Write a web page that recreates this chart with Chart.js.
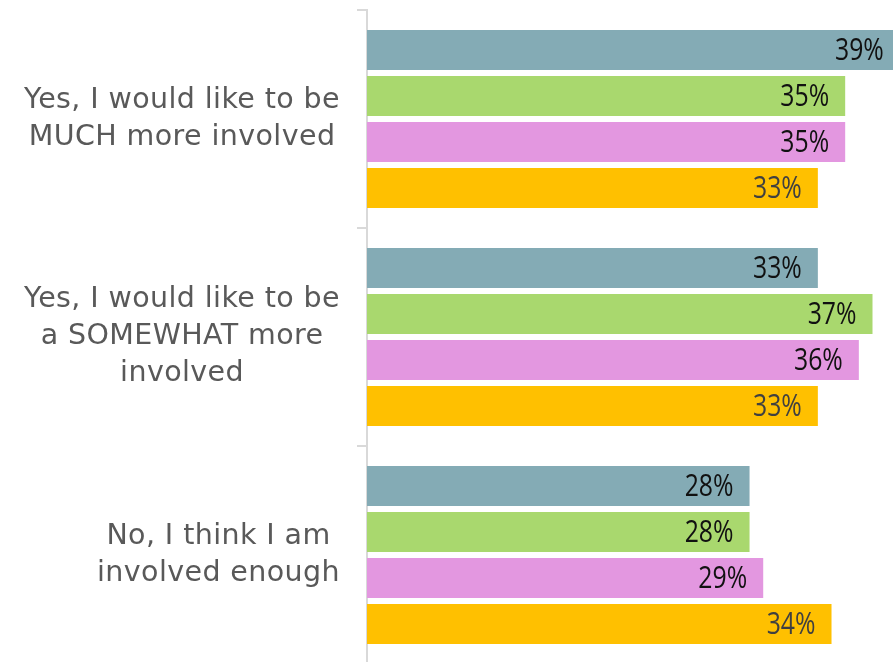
<!DOCTYPE html>
<html>
<head>
<meta charset="utf-8">
<script src="https://cdn.jsdelivr.net/npm/chart.js@4/dist/chart.umd.min.js"></script>
<style>
  html, body { margin: 0; padding: 0; background: #ffffff; overflow: hidden; }
  #wrap { width: 893px; height: 662px; overflow: hidden; }
</style>
</head>
<body>
<div id="wrap"><canvas id="c" width="893" height="664"></canvas></div>
<script>
const categories = [
  ["Yes, I would like to be", "MUCH more involved"],
  ["Yes, I would like to be", "a SOMEWHAT more", "involved"],
  ["No, I think I am", "involved enough"]
];
const seriesNames = ["Series 1", "Series 2", "Series 3", "Series 4"];
const series1 = [39, 33, 28];
const series2 = [35, 37, 28];
const series3 = [35, 36, 29];
const series4 = [33, 33, 34];
const seriesColors = ["#84ABB5", "#A9D86E", "#E397E0", "#FFC000"];
const labelColors = ["#111111", "#111111", "#111111", "#404040"];

const valueLabels = {
  id: "valueLabels",
  afterDatasetsDraw(chart) {
    const ctx = chart.ctx;
    ctx.save();
    ctx.font = "31px 'Open Sans'";
    ctx.textBaseline = "middle";
    ctx.textAlign = "right";
    const sx = 0.8;
    chart.data.datasets.forEach((ds, di) => {
      const meta = chart.getDatasetMeta(di);
      meta.data.forEach((el, i) => {
        const txt = ds.data[i] + "%";
        ctx.fillStyle = labelColors[di];
        ctx.save();
        ctx.translate(el.x - 16, el.y + 1);
        ctx.scale(sx, 1);
        ctx.fillText(txt, 0, 0);
        ctx.restore();
      });
    });
    ctx.restore();
  }
};

const catLabels = {
  id: "catLabels",
  afterDraw(chart) {
    const ctx = chart.ctx;
    const ys = chart.scales.y;
    ctx.save();
    ctx.font = "28.5px 'DejaVu Sans'";
    if ("letterSpacing" in ctx) ctx.letterSpacing = "0.4px";
    ctx.fillStyle = "#595959";
    ctx.textBaseline = "middle";
    ctx.textAlign = "center";
    const lh = 37;
    const rightEdge = 340;
    categories.forEach((lines, i) => {
      const yc = ys.getPixelForValue(i);
      let w = 0;
      lines.forEach(l => { w = Math.max(w, ctx.measureText(l).width); });
      const cx = rightEdge - w / 2;
      const y0 = yc - (lines.length - 1) * lh / 2;
      lines.forEach((l, k) => ctx.fillText(l, cx, y0 + k * lh));
    });
    ctx.restore();
  }
};

new Chart(document.getElementById("c"), {
  type: "bar",
  data: {
    labels: categories,
    datasets: [series1, series2, series3, series4].map((d, k) => ({
      label: seriesNames[k],
      data: d,
      backgroundColor: seriesColors[k],
      borderWidth: 0,
      categoryPercentage: 0.844,
      barPercentage: 0.87
    }))
  },
  options: {
    indexAxis: "y",
    responsive: false,
    animation: false,
    layout: { padding: { top: 10, right: 0, bottom: 0, left: 0 } },
    plugins: { legend: { display: false }, tooltip: { enabled: false } },
    scales: {
      x: { display: false, min: 0, max: 38.5 },
      y: {
        grid: { offset: true, drawOnChartArea: false, tickLength: 10, color: "#d9d9d9", lineWidth: 2 },
        border: { display: true, color: "#d9d9d9", width: 2 },
        ticks: { display: false },
        afterFit(s) { s.width = 367; }
      }
    }
  },
  plugins: [valueLabels, catLabels]
});
</script>
</body>
</html>
